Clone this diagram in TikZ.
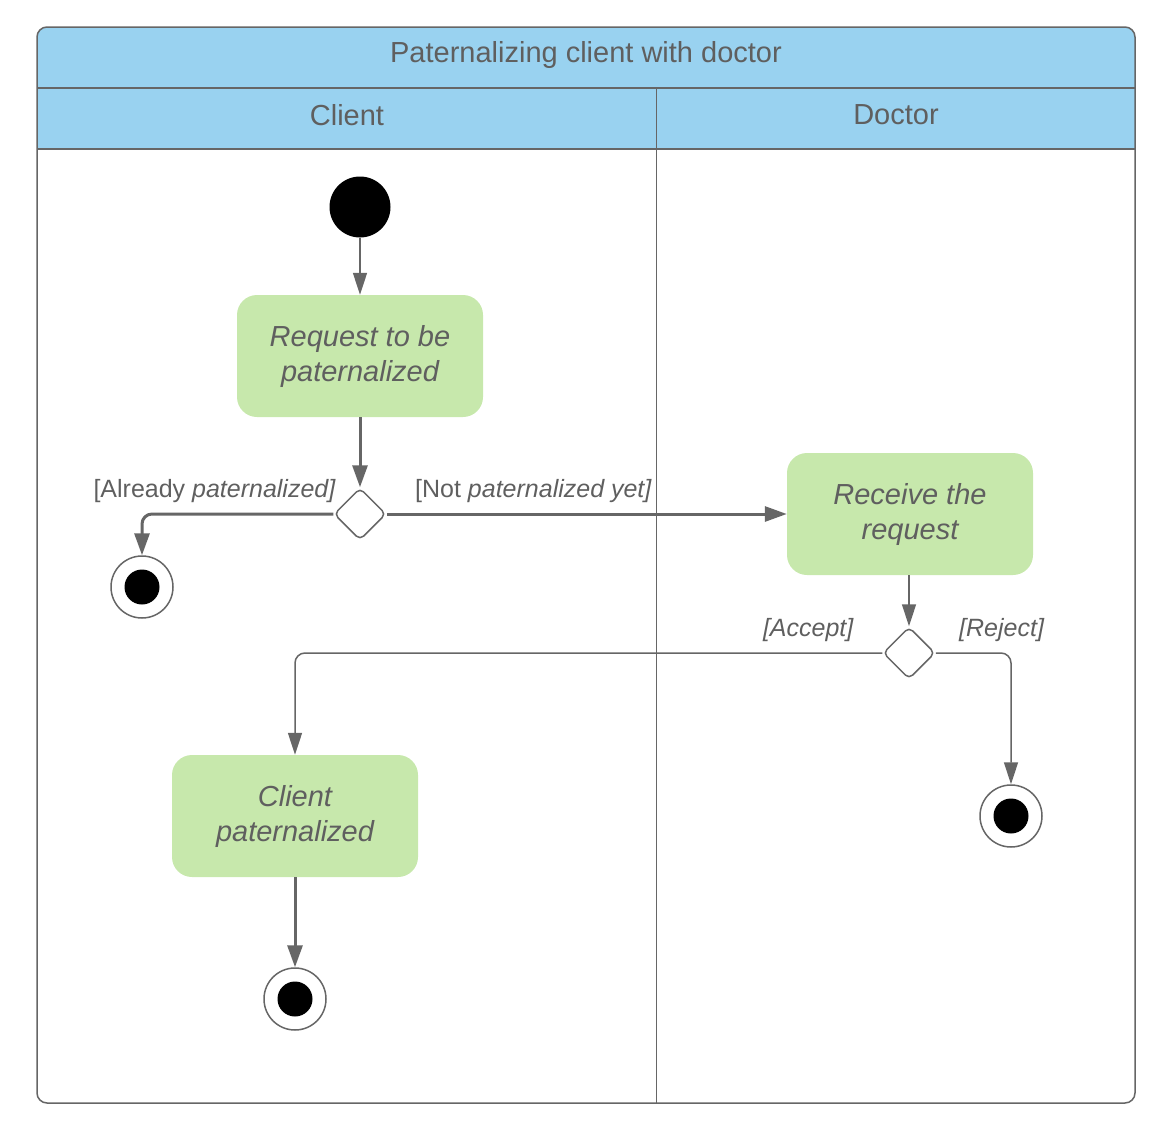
\documentclass[tikz,border=0pt]{standalone}
\usepackage{fontspec}
\setmainfont{Liberation Sans}
\usetikzlibrary{shapes.geometric,arrows.meta}
\definecolor{hdr}{HTML}{99D2F0}
\definecolor{act}{HTML}{C7E8AC}
\definecolor{txt}{HTML}{5F5F5F}
\definecolor{ln}{HTML}{666666}
\tikzset{
  actbox/.style={fill=act, draw=none, rounded corners=20pt, minimum width=246pt, minimum height=122pt, align=center, text=txt, font=\fontsize{29}{35}\selectfont\itshape},
  decision/.style={diamond, draw=ln, line width=1.5pt, fill=white, rounded corners=5pt, minimum width=52pt, minimum height=52pt, inner sep=0pt},
  startdot/.style={circle, fill=black, draw=none, minimum size=61pt, inner sep=0pt},
  finaldot/.style={circle, fill=white, draw=ln, line width=1.5pt, minimum size=62pt, inner sep=0pt, path picture={\fill[black] (path picture bounding box.center) circle (17.5pt);}},
  thinarr/.style={draw=ln, line width=1.5pt, -{Triangle[length=22pt,width=14pt]}, rounded corners=10pt},
  thickarr/.style={draw=ln, line width=3pt, -{Triangle[length=22pt,width=15pt]}, rounded corners=10pt},
  hdrtext/.style={text=txt, font=\fontsize{29}{34}\selectfont},
  guard/.style={text=txt, font=\fontsize{25}{30}\selectfont, inner sep=2pt},
  frame/.style={draw=ln, line width=1.5pt}
}
\begin{document}
\begin{tikzpicture}[x=1pt,y=-1pt]
\useasboundingbox (0,0) rectangle (1168,1135);
% header fill
\begin{scope}
\clip (0,0) rectangle (1168,149);
\fill[hdr, rounded corners=10pt] (37,27) rectangle (1135,1103);
\end{scope}
\draw[frame, rounded corners=10pt] (37,27) rectangle (1135,1103);
\draw[frame] (37,88) -- (1135,88);
\draw[frame] (37,149) -- (1135,149);
\draw[draw=ln, line width=1pt] (656,88) -- (656,1103);
\node[hdrtext] (title) at (586,55) {Paternalizing client with doctor};
\node[hdrtext] (lane1) at (347,115) {Client};
\node[hdrtext] (lane2) at (896,115) {Doctor};
% nodes
\node[startdot] (start) at (360,207) {};
\node[actbox] (req) at (360,356) {Request to be\\paternalized};
\node[decision] (dec1) at (360,514) {};
\node[finaldot] (fin1) at (142,587) {};
\node[actbox] (recv) at (910,514) {Receive the\\request};
\node[decision] (dec2) at (909,653) {};
\node[actbox] (client) at (295,816) {Client\\paternalized};
\node[finaldot] (fin2) at (1011,816) {};
\node[finaldot] (fin3) at (295,999) {};
% connectors
\draw[thinarr] (start) -- (req);
\draw[thickarr] (req) -- (dec1);
\draw[thickarr] (dec1.west) -| (fin1.north);
\draw[thickarr] (dec1.east) -- (recv.west);
\draw[thinarr] (recv.south -| dec2.north) -- (dec2.north);
\draw[thinarr] (dec2.west) -| (client.north);
\draw[thinarr] (dec2.east) -| (fin2.north);
\draw[thickarr] (client) -- (fin3);
% guards
\node[guard, anchor=east] (g1) at (338,491) {[Already \textit{paternalized]}};
\node[guard, anchor=west] (g2) at (413,491) {[Not \textit{paternalized yet]}};
\node[guard, anchor=east] (g3) at (856,630) {\textit{[Accept]}};
\node[guard, anchor=west] (g4) at (957,630) {\textit{[Reject]}};
\end{tikzpicture}
\end{document}
